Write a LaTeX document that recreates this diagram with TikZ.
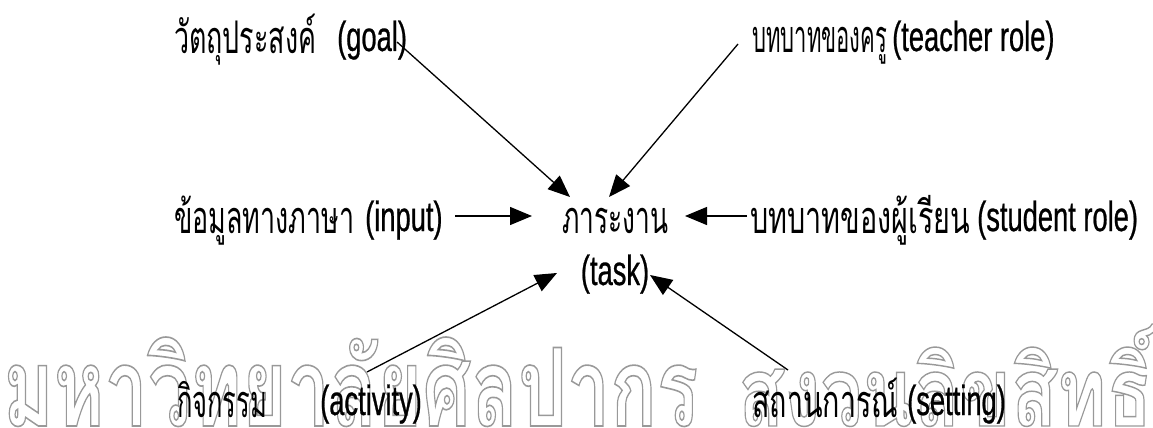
\documentclass[tikz,border=0pt]{standalone}
\usepackage{fontspec}
\usetikzlibrary{arrows.meta}
\newfontfamily\thai[Script=Thai]{Loma}
\newfontfamily\thaiwm[Script=Thai]{Loma}
\newfontfamily\en[FakeStretch=0.65,FakeBold=0.6]{Liberation Sans}
\newcommand\wmon{\special{pdf:literal direct 1 Tr 0.9 w 0.6 0.6 0.6 RG}}
\newcommand\wmoff{\special{pdf:literal direct 0 Tr 0 0 0 RG}}
\newcommand\thw[2]{\resizebox{#1pt}{\height}{#2}}
\tikzset{
  lbl/.style={inner sep=0pt, anchor=base west},
  th/.style={lbl, font=\thai\fontsize{45}{50}\selectfont},
  eng/.style={lbl, font=\en\fontsize{42}{48}\selectfont},
  wm/.style={lbl, font=\thaiwm\bfseries\fontsize{60}{60}\selectfont},
  arr/.style={line width=1.3pt, -{Triangle[length=22pt,width=18pt]}},
}
\begin{document}
\begin{tikzpicture}[x=1pt,y=-1pt]
\useasboundingbox (0,0) rectangle (1153,428);
% watermark
\node[wm] (wm1) at (3,426) {\wmon\resizebox{695pt}{89pt}{มหาวิทยาลัยศิลปากร}\wmoff};
\node[wm] (wm2) at (738,426) {\wmon\resizebox{414pt}{102pt}{สงวนลิขสิทธิ์}\wmoff};
% labels
\node[th]  (goalth) at (174,53) {\thw{142}{วัตถุประสงค์}};
\node[eng] (goal)   at (337,51) {(goal)};
\node[th]  (teachth) at (752,53) {\thw{135}{บทบาทของครู}};
\node[eng] (teach)   at (892,51) {(teacher role)};
\node[th]  (inputth) at (174,233) {\thw{180}{ข้อมูลทางภาษา}};
\node[eng] (input)   at (365,231) {(input)};
\node[th]  (taskth)  at (562,233) {\thw{106}{ภาระงาน}};
\node[eng, anchor=base] (task) at (615,285) {(task)};
\node[th]  (studth) at (750,233) {\thw{220}{บทบาทของผู้เรียน}};
\node[eng] (stud)   at (977,231) {(student role)};
\node[th]  (actth)  at (177,417) {\thw{90}{กิจกรรม}};
\node[eng] (act)    at (320,415) {(activity)};
\node[th]  (setth)  at (752,417) {\thw{146}{สถานการณ์}};
\node[eng] (set)    at (907,415) {(setting)};
% connector ends
\coordinate (g0) at (397,42);  \coordinate (g1) at (570,197);
\coordinate (t0) at (738,44);  \coordinate (t1) at (609,197);
\coordinate (i0) at (455,216); \coordinate (i1) at (532,216);
\coordinate (s0) at (747,216); \coordinate (s1) at (685,216);
\coordinate (a0) at (367,372); \coordinate (a1) at (557,273);
\coordinate (e0) at (788,370); \coordinate (e1) at (650,275);
\draw[arr] (g0) -- (g1);
\draw[arr] (t0) -- (t1);
\draw[arr] (i0) -- (i1);
\draw[arr] (s0) -- (s1);
\draw[arr] (a0) -- (a1);
\draw[arr] (e0) -- (e1);
\end{tikzpicture}
\end{document}
